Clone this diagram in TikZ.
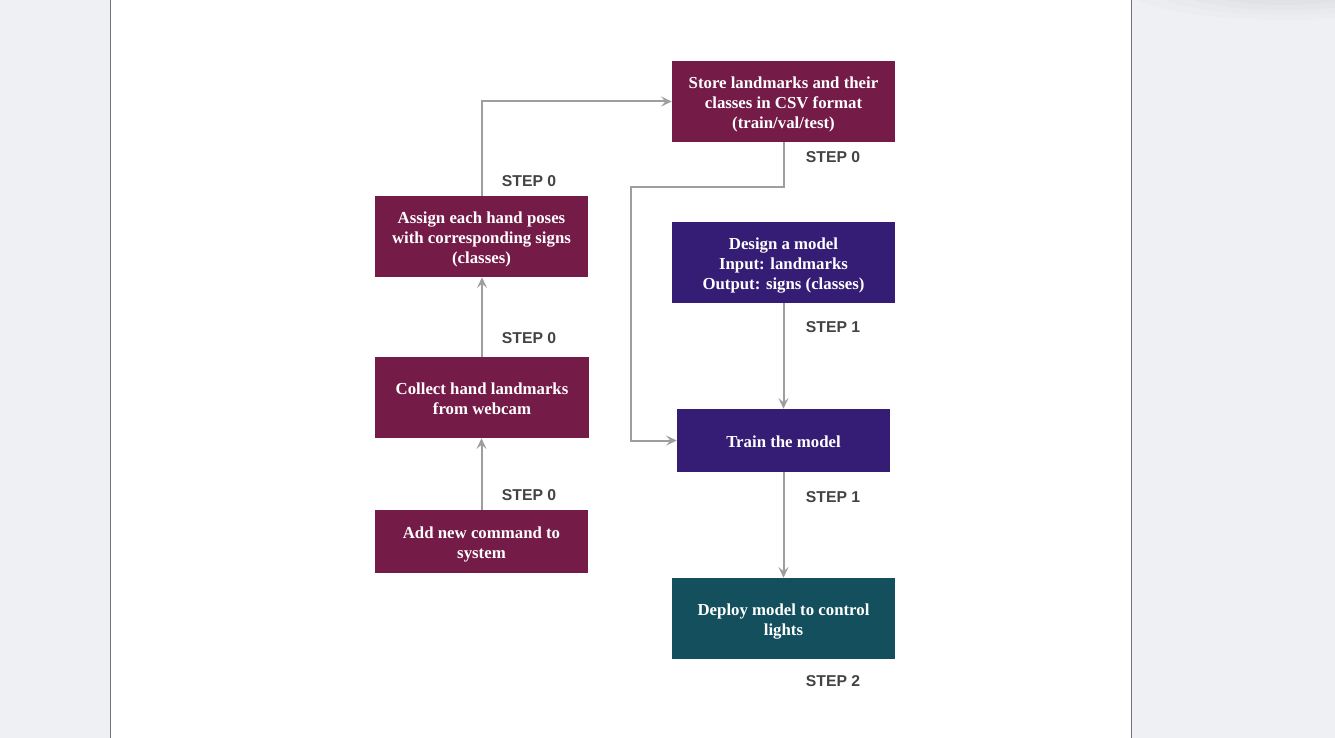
\documentclass[tikz,border=0pt]{standalone}
\usepackage{fontspec}
\setmainfont{Liberation Serif}
\newfontfamily\labfont{Liberation Sans}
\usetikzlibrary{arrows.meta}
\definecolor{pagebg}{HTML}{EEF0F4}
\definecolor{maroonbox}{HTML}{741B47}
\definecolor{indigobox}{HTML}{351C75}
\definecolor{tealbox}{HTML}{134F5C}
\definecolor{arrowgray}{HTML}{9E9E9E}
\definecolor{labgray}{HTML}{434343}
\definecolor{edgegray}{HTML}{747474}
\newcommand\boxlines[1]{\raisebox{-2.6pt}[\height][\depth]{\begin{tabular}{@{}c@{}}#1\end{tabular}}}
\tikzset{
  stepbox/.style={draw=none, inner sep=0pt, align=center, text=white,
    font=\bfseries\fontsize{12.6pt}{15pt}\selectfont},
  tallbox/.style={stepbox, minimum height=60.75pt},
  shortbox/.style={stepbox, minimum height=47.25pt},
  wide/.style={minimum width=167.25pt},
  narrow/.style={minimum width=159.75pt},
  arr/.style={draw=arrowgray, line width=1.5pt,
    -{Stealth[length=8pt,width=7.5pt,inset=3.2pt]}},
  steplab/.style={text=labgray, font=\labfont\bfseries\fontsize{11.8pt}{14pt}\selectfont, inner sep=0pt}
}
\begin{document}
\begin{tikzpicture}[x=0.75pt,y=-0.75pt]
\useasboundingbox (0,0) rectangle (1335,738);
\fill[pagebg] (0,0) rectangle (1335,738);
% soft shadow top right
\foreach \r/\o in {160/0.012,135/0.012,110/0.014,85/0.016}{
  \fill[black,opacity=\o] (1285,-12) ellipse ({\r} and {\r/5});
}
\fill[white] (111,0) rectangle (1131,738);
\draw[edgegray, line width=1pt] (110.6,0) -- (110.6,738);
\draw[edgegray, line width=1pt] (1131.4,0) -- (1131.4,738);

% nodes
\node[tallbox, wide, fill=maroonbox] (store) at (783.5,101.5)
  {\boxlines{Store landmarks and their\\classes in CSV format\\(train/val/test)}};
\node[tallbox, narrow, fill=maroonbox] (assign) at (481.5,236.5)
  {\boxlines{Assign each hand poses\\with corresponding signs\\(classes)}};
\node[tallbox, minimum width=160.5pt, fill=maroonbox] (collect) at (482,397.5)
  {\boxlines{Collect hand landmarks\\from webcam}};
\node[shortbox, narrow, fill=maroonbox] (add) at (481.5,541.5)
  {\boxlines{Add new command to\\system}};
\node[tallbox, wide, fill=indigobox] (design) at (783.5,262.5)
  {\boxlines{Design a model\\Input: landmarks\\Output: signs (classes)}};
\node[shortbox, narrow, fill=indigobox] (train) at (783.5,440.5)
  {\boxlines{Train the model}};
\node[tallbox, wide, fill=tealbox] (deploy) at (783.5,618.5)
  {\boxlines{Deploy model to control\\lights}};

% connectors
\coordinate (bend) at (631,187);
\draw[arr] (add.north) -- (add.north |- collect.south);
\draw[arr] (collect.north) -- (collect.north |- assign.south);
\draw[arr] (assign.north) |- (store.west);
\draw[arr] (store.south) |- (bend) |- (train.west);
\draw[arr] (design.south) -- (train.north);
\draw[arr] (train.south) -- (deploy.north);

% labels
\node[steplab] (l1) at (529,181.5) {STEP 0};
\node[steplab] (l2) at (833,157.5) {STEP 0};
\node[steplab] (l3) at (529,338.5) {STEP 0};
\node[steplab] (l4) at (529,495.5) {STEP 0};
\node[steplab] (l5) at (833,327.5) {STEP 1};
\node[steplab] (l6) at (833,497.5) {STEP 1};
\node[steplab] (l7) at (833,681.5) {STEP 2};
\end{tikzpicture}
\end{document}
